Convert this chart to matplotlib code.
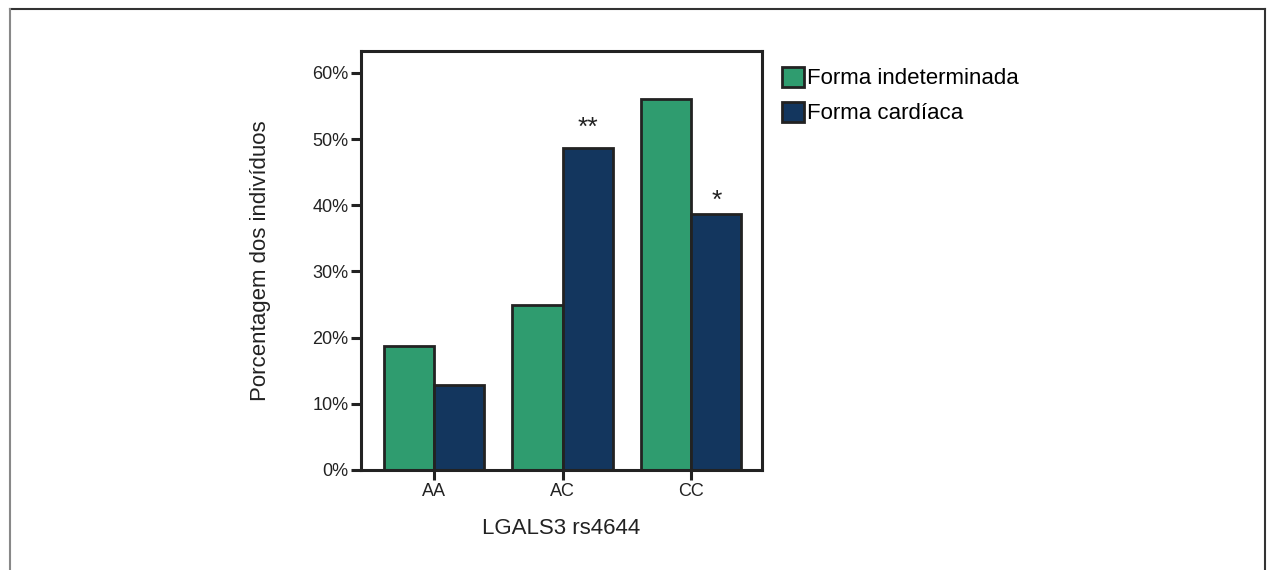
import matplotlib
matplotlib.use("Agg")
import matplotlib.pyplot as plt
import numpy as np
from matplotlib.font_manager import fontManager

# data
genotipos = ["AA", "AC", "CC"]
indeterminada = [18.8, 24.9, 56.0]
cardiaca = [12.8, 48.7, 38.6]
marcas = ["", "**", "*"]
series_nomes = ["Forma indeterminada", "Forma cardíaca"]

nomes = {f.name for f in fontManager.ttflist}
fonte = "Liberation Sans Narrow" if "Liberation Sans Narrow" in nomes else "Liberation Sans"
plt.rcParams['font.family'] = [fonte, 'DejaVu Sans']

verde = "#2f9c6f"
azul = "#13365e"
borda = "#222222"

fig = plt.figure(figsize=(12.69, 5.70), dpi=100)

# outer frame
fig.add_artist(plt.Line2D([10/1269, 1265/1269], [1-9/570, 1-9/570], color="#333333", lw=1.5, transform=fig.transFigure))
fig.add_artist(plt.Line2D([10/1269, 10/1269], [0, 1-9/570], color="#888888", lw=1.5, transform=fig.transFigure))
fig.add_artist(plt.Line2D([1265/1269, 1265/1269], [0, 1-9/570], color="#333333", lw=1.5, transform=fig.transFigure))

ax = fig.add_axes([361/1269, 1-470/570, 401/1269, 419/570])

x = np.arange(len(genotipos))
w = 0.39
b1 = ax.bar(x - w/2, indeterminada, w, color=verde, edgecolor=borda, linewidth=2, label=series_nomes[0])
b2 = ax.bar(x + w/2, cardiaca, w, color=azul, edgecolor=borda, linewidth=2, label=series_nomes[1])

# significance marks
for rect, m in zip(b2, marcas):
    if m:
        dy = 3.0 if m == "**" else 2.0
        ax.text(rect.get_x() + rect.get_width()/2, rect.get_height() + dy, m,
                ha="center", va="center", fontsize=19, color="#222222")

ax.set_xlim(-0.567, 2.55)
ax.set_ylim(0, 63.3)
ax.set_yticks([0, 10, 20, 30, 40, 50, 60])
ax.set_yticklabels([f"{v}%" for v in [0, 10, 20, 30, 40, 50, 60]], fontsize=13, color="#222222")
ax.set_xticks(x)
ax.set_xticklabels(genotipos, fontsize=13, color="#222222")
ax.tick_params(axis="both", width=2.2, length=7, color=borda, direction="out", pad=2)
ax.tick_params(axis="x", pad=2)
for s in ax.spines.values():
    s.set_linewidth(2.2)
    s.set_color(borda)

ax.set_ylabel("Porcentagem dos indivíduos", fontsize=16, color="#222222", labelpad=30)
ax.set_xlabel("LGALS3 rs4644", fontsize=16, color="#222222", labelpad=13)

leg = fig.legend(handles=[b1, b2], loc="upper left", bbox_to_anchor=(773/1269, 1-58/570),
                 frameon=False, fontsize=16, handlelength=1.0, handleheight=1.0,
                 handletextpad=0.15, labelspacing=0.55, borderaxespad=0)

fig.savefig("out.png", dpi=100)
